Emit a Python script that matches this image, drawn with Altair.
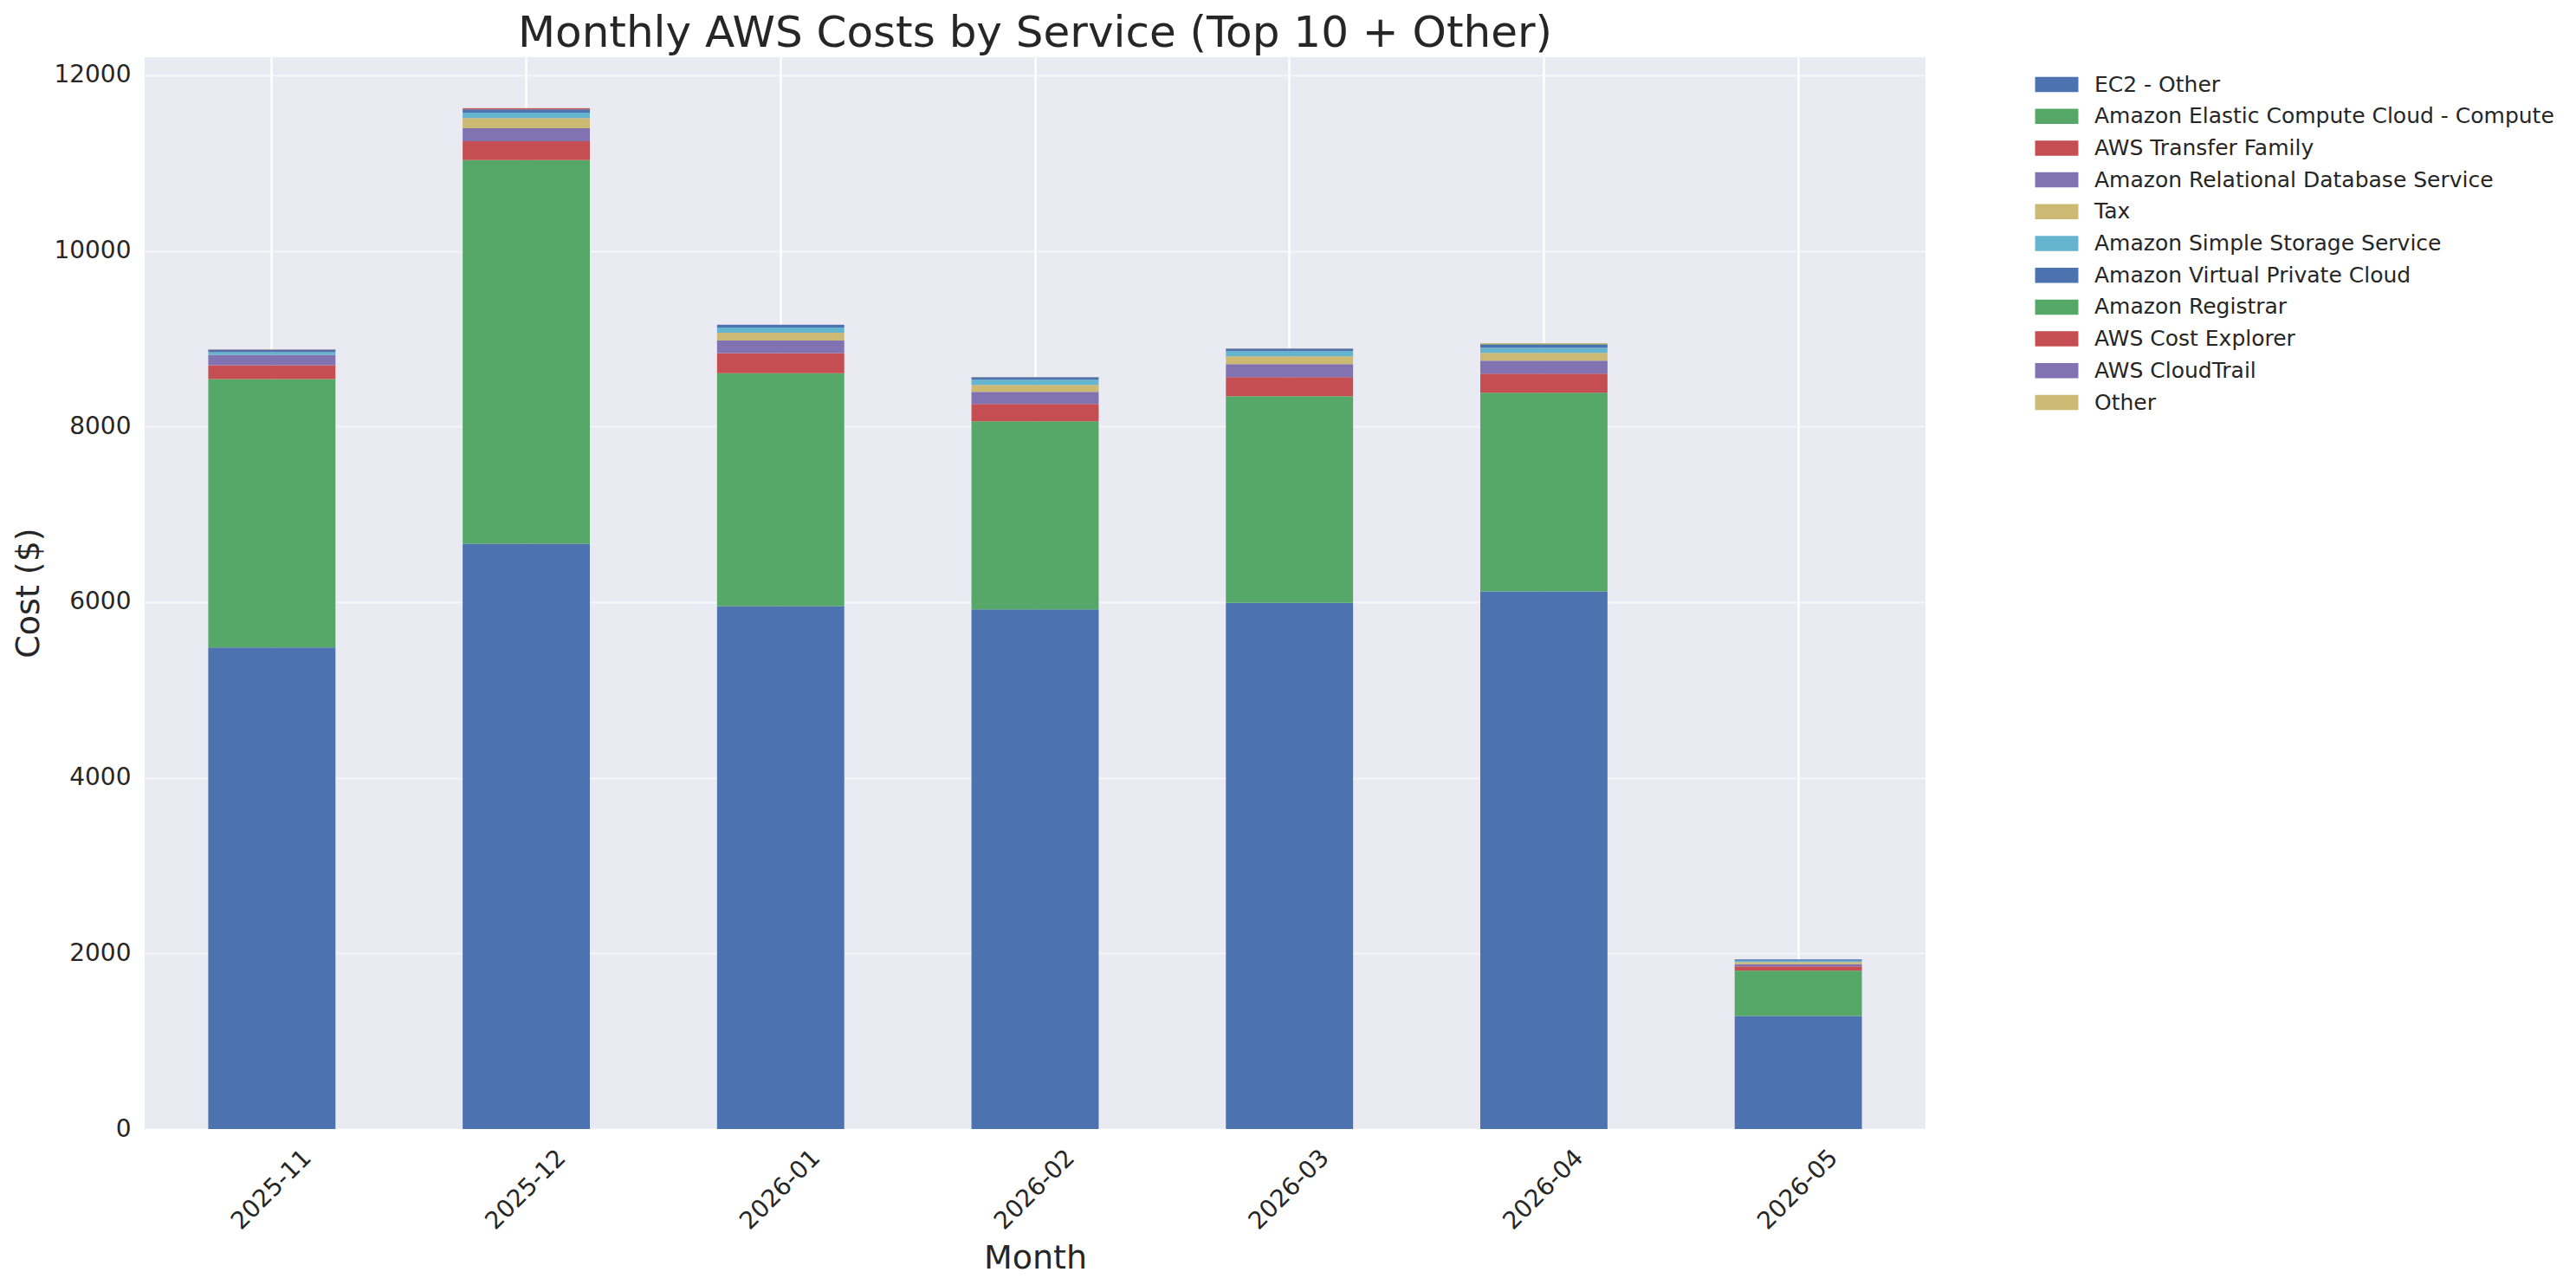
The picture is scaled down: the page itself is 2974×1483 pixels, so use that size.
import altair as alt
import pandas as pd

months = ["2025-11", "2025-12", "2026-01", "2026-02", "2026-03", "2026-04", "2026-05"]

services = [
    "EC2 - Other",
    "Amazon Elastic Compute Cloud - Compute",
    "AWS Transfer Family",
    "Amazon Relational Database Service",
    "Tax",
    "Amazon Simple Storage Service",
    "Amazon Virtual Private Cloud",
    "Amazon Registrar",
    "AWS Cost Explorer",
    "AWS CloudTrail",
    "Other",
]

ec2_other = [5485, 6667, 5955, 5918, 5993, 6124, 1289]
ec2_compute = [3056, 4369, 2652, 2141, 2352, 2261, 514]
transfer_family = [158, 214, 229, 198, 217, 217, 49]
rds = [118, 148, 144, 138, 149, 148, 26]
tax = [0, 115, 89, 79, 88, 89, 23]
s3 = [30, 63, 59, 59, 60, 59, 17]
vpc = [30, 36, 29, 29, 29, 33, 13]
registrar = [0, 0, 0, 0, 0, 7, 0]
cost_explorer = [1, 13, 1, 1, 1, 1, 0]
cloudtrail = [1, 1, 1, 1, 1, 1, 0]
other = [2, 2, 2, 2, 2, 10, 1]

series = [ec2_other, ec2_compute, transfer_family, rds, tax, s3, vpc,
          registrar, cost_explorer, cloudtrail, other]

colors = ["#4C72B0", "#55A868", "#C44E52", "#8172B2", "#CCB974", "#64B5CD",
          "#4C72B0", "#55A868", "#C44E52", "#8172B2", "#CCB974"]

rows = []
for si, (name, vals) in enumerate(zip(services, series)):
    for m, v in zip(months, vals):
        rows.append({"Month": m, "Service": name, "Cost": v, "order": si})
df = pd.DataFrame(rows)

FONT = "DejaVu Sans"
TXT = "#262626"

chart = (
    alt.Chart(df)
    .mark_bar(strokeWidth=0)
    .encode(
        x=alt.X(
            "Month:N",
            sort=months,
            scale=alt.Scale(paddingInner=0.5, paddingOuter=0.25),
            axis=alt.Axis(
                title="Month",
                labelAngle=-45,
                labelAlign="center",
                labelBaseline="middle",
                labelPadding=70,
                labelFontSize=28,
                labelFont=FONT,
                labelColor=TXT,
                titleFontSize=38,
                titleFont=FONT,
                titleFontWeight="normal",
                titleColor=TXT,
                titleX=1028,
                titleY=160,
                titleAlign="center",
                titleBaseline="alphabetic",
                grid=True,
                gridColor="white",
                gridWidth=2.5,
                bandPosition=0.5,
                ticks=False,
                domain=False,
            ),
        ),
        y=alt.Y(
            "Cost:Q",
            stack="zero",
            scale=alt.Scale(domain=[0, 12207], nice=False, zero=True),
            axis=alt.Axis(
                title="Cost ($)",
                values=[0, 2000, 4000, 6000, 8000, 10000, 12000],
                format="d",
                labelFontSize=28,
                labelFont=FONT,
                labelColor=TXT,
                labelPadding=16,
                titleFontSize=38,
                titleFont=FONT,
                titleFontWeight="normal",
                titleColor=TXT,
                titleX=-134,
                titleY=618,
                titleAngle=-90,
                titleAlign="center",
                titleBaseline="middle",
                grid=True,
                gridColor="white",
                gridOpacity=0.55,
                gridWidth=2,
                ticks=False,
                domain=False,
            ),
        ),
        color=alt.Color(
            "Service:N",
            scale=alt.Scale(domain=services, range=colors),
            legend=alt.Legend(
                title=None,
                orient="none",
                legendX=2195,
                legendY=19,
                symbolType="M-2.857,-1H2.857V1H-2.857Z",
                symbolSize=306,
                symbolStrokeWidth=0,
                symbolOpacity=1,
                labelFontSize=25,
                labelFont=FONT,
                labelColor=TXT,
                labelOffset=31,
                labelLimit=800,
                rowPadding=10.7,
                padding=0,
            ),
        ),
        order=alt.Order("order:Q", sort="ascending"),
    )
    .properties(
        width=2056,
        height=1237,
        title=alt.TitleParams(
            "Monthly AWS Costs by Service (Top 10 + Other)",
            fontSize=50,
            font=FONT,
            fontWeight="normal",
            color=TXT,
            anchor="middle",
            frame="group",
            baseline="alphabetic",
            offset=13,
            dy=51,
        ),
        autosize=alt.AutoSizeParams(type="none"),
        padding={"left": 159, "top": 58, "right": 743, "bottom": 172},
        background="white",
    )
    .configure_view(fill="#EAEAF2", stroke=None)
)

chart.save("out.html", embed_options={"renderer": "svg", "actions": False})
